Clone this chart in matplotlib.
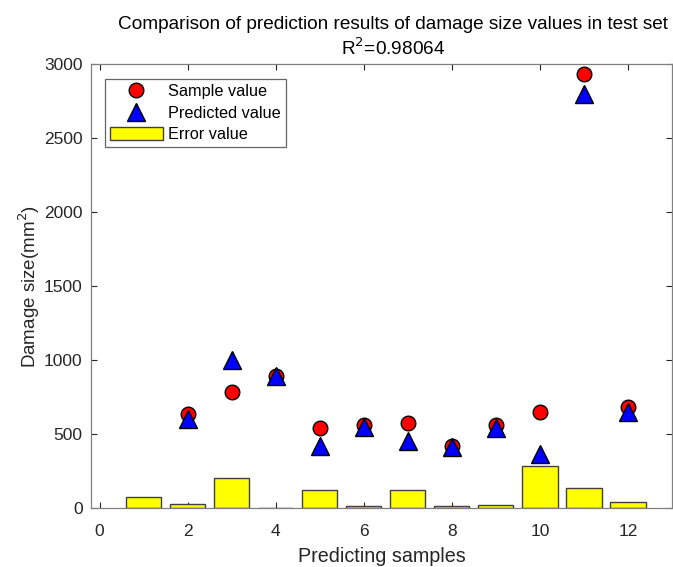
import numpy as np
import matplotlib
matplotlib.use('Agg')
import matplotlib.pyplot as plt

plt.rcParams['font.family'] = ['Liberation Sans', 'DejaVu Sans']

# data (sample 1 has no visible markers)
samples = [1, 2, 3, 4, 5, 6, 7, 8, 9, 10, 11, 12]
sample_value = [np.nan, 635, 787, 897, 543, 562, 575, 423, 562, 649, 2935, 686]
predicted_value = [np.nan, 604, 1003, 892, 418, 550, 452, 411, 546, 367, 2803, 653]
error_value = [74, 31, 205, 3, 123, 15, 125, 15, 24, 287, 136, 42]
r2 = 0.98064

fig = plt.figure(figsize=(6.73, 5.67), dpi=100)
ax = fig.add_axes([0.135, 0.1035, 0.8635, 0.783])

ax.bar(samples, error_value, width=0.8, color='#ffff00', edgecolor='#404040',
       linewidth=1.0, label='Error value', zorder=2)
ax.plot(samples, sample_value, 'o', ms=10.5, mfc='red', mec='black', mew=1.0,
        label='Sample value', zorder=3)
ax.plot(samples, predicted_value, '^', ms=12.5, mfc='blue', mec='black', mew=1.0,
        label='Predicted value', zorder=4)

ax.set_xlim(-0.2, 13)
ax.set_ylim(0, 3000)
ax.set_xticks(range(0, 13, 2))
ax.set_yticks(range(0, 3001, 500))
ax.tick_params(direction='in', top=True, right=True, labelsize=12.5,
               colors='#262626', length=4, width=0.8)
ax.tick_params(axis='x', pad=11)
ax.tick_params(axis='y', pad=6)
for s in ax.spines.values():
    s.set_color('#808080')
    s.set_linewidth(0.9)

ax.set_xlabel('Predicting samples', fontsize=14.2, color='#262626', labelpad=6)
ax.set_ylabel('Damage size(mm$^2$)', fontsize=13.5, color='#262626', labelpad=1)
ax.set_title('Comparison of prediction results of damage size values in test set\n'
             'R$^2$=%.5f' % r2, fontsize=13.7, color='#000000', pad=7,
             linespacing=1.25, x=0.52)

leg = ax.legend(loc='upper left', fontsize=11.7, frameon=True, fancybox=False,
                borderpad=0.3, labelspacing=0.38, handlelength=3.3,
                handleheight=0.9, handletextpad=0.3, borderaxespad=0,
                bbox_to_anchor=(0.024, 0.967))
leg.get_frame().set_edgecolor('#404040')
leg.get_frame().set_linewidth(0.9)

fig.savefig('out.png', dpi=100)
